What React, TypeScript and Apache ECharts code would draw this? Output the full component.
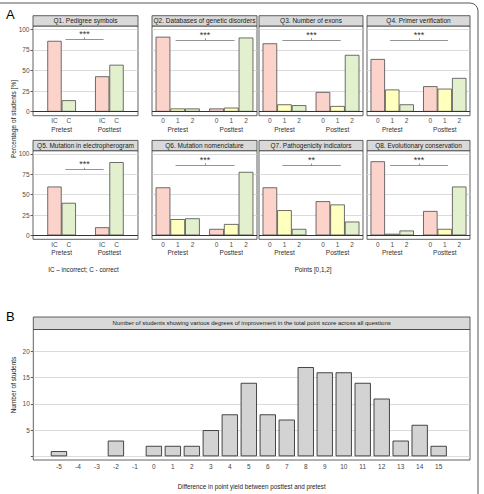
import React, { useEffect, useRef } from "react";
import * as echarts from "echarts";

// ---------- DATA ----------
const questionTitles = [
  "Q1. Pedigree symbols",
  "Q2. Databases of genetic disorders",
  "Q3. Number of exons",
  "Q4. Primer verification",
  "Q5. Mutation in electropherogram",
  "Q6. Mutation nomenclature",
  "Q7. Pathogenicity indicators",
  "Q8. Evolutionary conservation",
];
const binaryLevels = ["IC", "C"];
const pointLevels = ["0", "1", "2"];
const testPhases = ["Pretest", "Posttest"];

// percentage of students per answer level
const q1Pretest = [86, 14];
const q1Posttest = [43, 57];
const q2Pretest = [91, 4, 4];
const q2Posttest = [4, 5, 90];
const q3Pretest = [83, 9, 8];
const q3Posttest = [24, 7, 69];
const q4Pretest = [64, 27, 9];
const q4Posttest = [31, 28, 41];
const q5Pretest = [60, 40];
const q5Posttest = [10, 90];
const q6Pretest = [59, 20, 21];
const q6Posttest = [8, 14, 78];
const q7Pretest = [59, 31, 8];
const q7Posttest = [42, 38, 17];
const q8Pretest = [91, 2, 6];
const q8Posttest = [30, 8, 60];

const significance = ["***", "***", "***", "***", "***", "***", "**", "***"];
const percentTicks = [0, 25, 50, 75, 100];

const pointDifferences = [-5, -4, -3, -2, -1, 0, 1, 2, 3, 4, 5, 6, 7, 8, 9, 10, 11, 12, 13, 14, 15];
const studentCounts = [1, 0, 0, 3, 0, 2, 2, 2, 5, 8, 14, 8, 7, 17, 16, 16, 14, 11, 3, 6, 2];
const countTicks = [0, 5, 10, 15, 20];
const countLabels = [5, 10, 15, 20];

// ---------- STYLE / LAYOUT ----------
const FONT = "'Liberation Sans', Arial, Helvetica, sans-serif";
const PINK = "#FBD3CB";
const YELLOW = "#FFFFBE";
const GREEN = "#E2F0CD";
const BAR_BORDER = "#4a4a4a";
const GRID_LINE = "#d2d2d2";
const TICK_TEXT = "#4d4d4d";
const colLeft = [33, 152, 259, 367];
const colWidth = [105, 105, 104, 103];
const rowTop = [26, 150.7];
const rowHeight = [89.7, 88.6];
const STRIP_H = 10.3;
const bracketY = [88, 87, 87, 87, 81, 86.5, 86, 86];

function buildOption() {
  const questions = [
    [q1Pretest, q1Posttest],
    [q2Pretest, q2Posttest],
    [q3Pretest, q3Posttest],
    [q4Pretest, q4Posttest],
    [q5Pretest, q5Posttest],
    [q6Pretest, q6Posttest],
    [q7Pretest, q7Posttest],
    [q8Pretest, q8Posttest],
  ];
  const grids: any[] = [];
  const xAxes: any[] = [];
  const yAxes: any[] = [];
  const series: any[] = [];
  const graphics: any[] = [];

  questions.forEach((pair, i) => {
    const row = Math.floor(i / 4);
    const col = i % 4;
    const left = colLeft[col];
    const top = rowTop[row];
    const width = colWidth[col];
    const height = rowHeight[row];
    const binary = pair[0].length === 2;
    const levels = binary ? binaryLevels : pointLevels;
    const colors = binary ? [PINK, GREEN] : [PINK, YELLOW, GREEN];
    const barW = binary ? 0.3 : 0.275;
    const xMin = binary ? 0.4 : 0.52;
    const xMax = binary ? 2.6 : 2.48;

    grids.push({
      left,
      top,
      width,
      height,
      show: true,
      backgroundColor: "#fff",
      borderColor: "#3a3a3a",
      borderWidth: 0.8,
      outerBoundsMode: "none",
    });

    const positions: number[] = [];
    const labelMap: Record<string, string> = {};
    const data: any[] = [];
    pair.forEach((vals, g) => {
      const center = g + 1;
      vals.forEach((v, k) => {
        const x = +(center + (k - (levels.length - 1) / 2) * barW).toFixed(4);
        positions.push(x);
        labelMap[x.toFixed(3)] = levels[k];
        data.push({ value: [x, v], itemStyle: { color: colors[k] } });
      });
    });

    xAxes.push({
      type: "value",
      gridIndex: i,
      position: "bottom",
      min: xMin,
      max: xMax,
      axisLine: { show: false, onZero: false },
      axisTick: { show: false, customValues: positions },
      splitLine: { show: false },
      axisLabel: {
        customValues: positions,
        formatter: (v: number) => labelMap[v.toFixed(3)] ?? "",
        fontSize: 6.5,
        fontFamily: FONT,
        color: TICK_TEXT,
        margin: 1.5,
      },
    });
    xAxes.push({
      type: "value",
      gridIndex: i,
      position: "bottom",
      offset: 0,
      min: xMin,
      max: xMax,
      axisLine: { show: false, onZero: false },
      axisTick: { show: false, customValues: [1, 2] },
      splitLine: { show: false },
      axisLabel: {
        customValues: [1, 2],
        formatter: (v: number) => testPhases[Math.round(v) - 1] ?? "",
        fontSize: 6.5,
        fontFamily: FONT,
        color: "#333",
        margin: 9.8,
      },
    });
    yAxes.push({
      type: "value",
      gridIndex: i,
      position: "left",
      min: -4.8,
      max: 104,
      axisLine: { show: false, onZero: false },
      axisTick: {
        show: col === 0,
        customValues: percentTicks,
        length: 2.5,
        lineStyle: { color: "#333", width: 0.8 },
      },
      axisLabel: {
        show: col === 0,
        customValues: percentTicks,
        fontSize: 6.5,
        fontFamily: FONT,
        color: TICK_TEXT,
        margin: 3.5,
      },
      splitLine: { show: true, lineStyle: { color: GRID_LINE, width: 0.8 } },
    });

    const bx1 = binary ? 1.08 : 0.96;
    const bx2 = binary ? 1.88 : 2.06;
    const by = bracketY[i];
    series.push({
      type: "bar",
      xAxisIndex: 2 * i,
      yAxisIndex: i,
      data,
      barWidth: "100%",
      itemStyle: { borderColor: BAR_BORDER, borderWidth: 0.8 },
      markLine: {
        silent: true,
        symbol: "none",
        animation: false,
        lineStyle: { type: "solid", color: "#666", width: 0.7 },
        label: { show: false },
        data: [
          { yAxis: 0, lineStyle: { color: "#333", width: 1, type: "solid" }, label: { show: false } },
          [
            {
              coord: [bx1, by],
              label: {
                show: true,
                formatter: significance[i],
                position: "insideMiddleTop",
                distance: 0.5,
                fontSize: 9,
                fontFamily: FONT,
                color: "#333",
              },
            },
            { coord: [bx2, by] },
          ],
          [{ coord: [(bx1 + bx2) / 2, by] }, { coord: [(bx1 + bx2) / 2, by + 2.2] }],
        ],
      },
    });

    // strip
    graphics.push({
      type: "rect",
      shape: { x: left, y: top - STRIP_H, width, height: STRIP_H },
      style: { fill: "#d9d9d9", stroke: "#3a3a3a", lineWidth: 0.8 },
    });
    graphics.push({
      type: "text",
      x: left + width / 2,
      y: top - STRIP_H / 2,
      style: {
        text: questionTitles[i],
        fill: "#1a1a1a",
        fontSize: 6.5,
        fontFamily: FONT,
        align: "center",
        verticalAlign: "middle",
      },
    });
  });

  // ---- Panel B ----
  const bLeft = 33.3;
  const bTop = 329.5;
  const bWidth = 436.7;
  const bHeight = 130.5;
  grids.push({
    left: bLeft,
    top: bTop,
    width: bWidth,
    height: bHeight,
    show: true,
    backgroundColor: "#fff",
    borderColor: "#3a3a3a",
    borderWidth: 0.8,
    outerBoundsMode: "none",
  });
  xAxes.push({
    type: "value",
    gridIndex: 8,
    position: "bottom",
    min: -6.35,
    max: 16.65,
    axisLine: { show: false, onZero: false },
    axisTick: { show: false, customValues: pointDifferences },
    splitLine: { show: false },
    axisLabel: {
      customValues: pointDifferences,
      formatter: (v: number) => String(v),
      fontSize: 6.5,
      fontFamily: FONT,
      color: "#444444",
      margin: 3,
    },
  });
  yAxes.push({
    type: "value",
    gridIndex: 8,
    position: "left",
    min: -0.7,
    max: 24.15,
    axisLine: { show: false, onZero: false },
    axisTick: { show: true, customValues: countTicks, length: 2.5, lineStyle: { color: "#333", width: 0.8 } },
    axisLabel: {
      customValues: countLabels,
      fontSize: 6.5,
      fontFamily: FONT,
      color: TICK_TEXT,
      margin: 3.5,
    },
    splitLine: { show: true, lineStyle: { color: GRID_LINE, width: 0.8 } },
  });
  series.push({
    type: "bar",
    xAxisIndex: 16,
    yAxisIndex: 8,
    barWidth: "86%",
    itemStyle: { color: "#D3D3D3", borderColor: "#333", borderWidth: 0.9 },
    data: pointDifferences.map((d, k) => ({
      value: [d, studentCounts[k]],
      itemStyle: studentCounts[k] === 0 ? { borderWidth: 0 } : undefined,
    })),
  });

  graphics.push({
    type: "rect",
    shape: { x: bLeft, y: 317, width: bWidth, height: bTop - 317 },
    style: { fill: "#d9d9d9", stroke: "#3a3a3a", lineWidth: 0.8 },
  });
  graphics.push({
    type: "text",
    x: bLeft + bWidth / 2,
    y: (317 + bTop) / 2,
    style: {
      text: "Number of students showing various degrees of improvement in the total point score across all questions",
      fill: "#1a1a1a",
      fontSize: 6,
      fontFamily: FONT,
      align: "center",
      verticalAlign: "middle",
    },
  });

  const plainText = (text: string, x: number, y: number, fontSize: number, align = "center", rotation = 0, fill = "#222") => ({
    type: "text",
    x,
    y,
    rotation,
    style: { text, fill, fontSize, fontFamily: FONT, align, verticalAlign: "middle" },
  });

  graphics.push(plainText("A", 6, 14.5, 13, "left", 0, "#000"));
  graphics.push(plainText("B", 6, 316, 13, "left", 0, "#000"));
  graphics.push(plainText("Percentage of students [%]", 13, 119, 6.5, "center", Math.PI / 2));
  graphics.push(plainText("Number of students", 13, 385, 6.5, "center", Math.PI / 2));
  graphics.push(plainText("IC \u2013 incorrect; C - correct", 48.3, 269.7, 6.3, "left"));
  graphics.push(plainText("Points [0,1,2]", 313, 269.7, 6.3, "center"));
  graphics.push(plainText("Difference in point yield between posttest and pretest", bLeft + bWidth / 2, 486.7, 6.3, "center"));
  graphics.push({
    type: "rect",
    shape: { x: -20, y: 3, width: 498, height: 520, r: 8 },
    style: { fill: "none", stroke: "#555", lineWidth: 1 },
    silent: true,
  });

  return {
    animation: false,
    backgroundColor: "#fff",
    textStyle: { fontFamily: FONT },
    grid: grids,
    xAxis: xAxes,
    yAxis: yAxes,
    series,
    graphic: graphics,
  };
}

export default function App() {
  const ref = useRef<HTMLDivElement>(null);
  useEffect(() => {
    const chart = echarts.init(ref.current!, null, { renderer: "svg" });
    chart.setOption(buildOption() as any);
    return () => chart.dispose();
  }, []);
  return (
    <div
      ref={ref}
      style={{ position: "fixed", left: 0, top: 0, width: 484, height: 494, background: "#fff" }}
    />
  );
}
